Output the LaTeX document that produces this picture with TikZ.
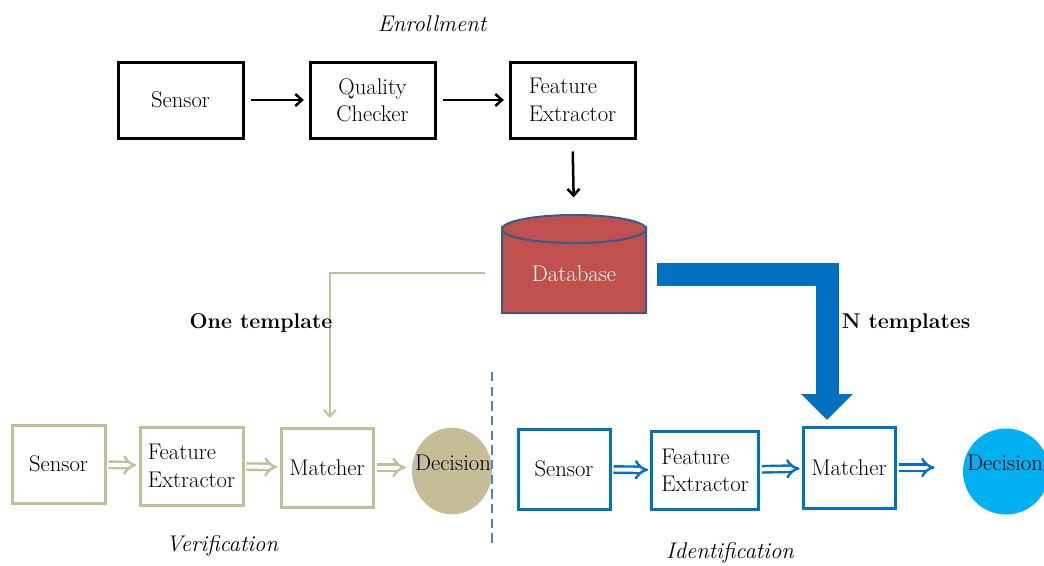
\documentclass[tikz,border=0pt]{standalone}
\usepackage{fontspec}
\usetikzlibrary{arrows.meta,shapes.geometric}
\definecolor{tanc}{HTML}{C4BD97}
\definecolor{mblue}{HTML}{0070C0}
\definecolor{cyanc}{HTML}{00B0F0}
\definecolor{dbred}{HTML}{C0504D}
\definecolor{dbedge}{HTML}{385D8A}
\definecolor{dashc}{HTML}{4F81BD}
\begin{document}
\begin{tikzpicture}[x=0.75pt,y=-0.75pt,
  every node/.style={font=\fontsize{17}{20.5}\selectfont, inner sep=0pt},
  ebox/.style={draw=black, line width=2.25pt, minimum width=93.75pt, minimum height=57pt, align=center},
  vbox/.style={draw=tanc, line width=2.25pt, align=center},
  ibox/.style={draw=mblue, line width=2.25pt, align=center},
  earr/.style={draw=black, line width=1.9pt, -{Straight Barb[length=5pt,width=9pt]}, shorten <=4.5pt, shorten >=3.5pt},
  varr/.style={draw=tanc, line width=1.8pt, double=white, double distance=3pt, -{Implies}, shorten <=1.5pt, shorten >=1.5pt},
  iarr/.style={draw=mblue, line width=1.8pt, double=white, double distance=3pt, -{Implies}, shorten <=1.5pt, shorten >=1.5pt},
  lbl/.style={font=\fontsize{16}{20.5}\selectfont\bfseries},
  ttl/.style={font=\fontsize{17}{20.5}\selectfont\itshape},
]
\useasboundingbox (0,0) rectangle (1044,565);

% Enrollment
\node[ttl] (tenr) at (432,24) {Enrollment};
\node[ebox] (es) at (180.5,100) {Sensor};
\node[ebox] (eq) at (372.5,100) {Quality\\Checker};
\node[ebox, align=left] (ef) at (572.5,100) {Feature\\Extractor};
\draw[earr] (es) -- (eq);
\draw[earr] (eq) -- (ef);

% Database
\node[minimum width=108pt, minimum height=73.5pt] (db) at (574,264) {};
\draw[fill=dbred, draw=dbedge, line width=1.5pt]
  (502,229) -- (502,313) -- (646,313) -- (646,229)
  arc[start angle=0, end angle=-180, x radius=72, y radius=-14] -- cycle;
\draw[fill=dbred, draw=dbedge, line width=1.5pt] (574,229) ellipse[x radius=72, y radius=14];
\node[text=white] (tdb) at (574,274) {Database};
\draw[earr, shorten <=9pt, shorten >=13pt] (ef.south) -- (db.north);

% Verification
\node[vbox, minimum width=69.75pt, minimum height=58.5pt] (vs) at (58.5,464) {Sensor};
\node[vbox, minimum width=77.25pt, minimum height=58.5pt, align=left] (vf) at (191.5,466) {Feature\\Extractor};
\node[vbox, minimum width=69pt, minimum height=59.25pt] (vm) at (327,467.5) {Matcher};
\node[ellipse, fill=tanc, minimum width=60pt, minimum height=65pt] (vd) at (452,471) {};
\node (tvd) at (453,463) {Decision};
\draw[varr] (vs) -- (vf);
\draw[varr] (vf) -- (vm);
\draw[varr] (vm.east) -- ([xshift=-3pt]vd.west |- vm.east);
\node[ttl] (tver) at (222,546) {Verification};

% One template connector
\coordinate (tstart) at (485,273);
\coordinate (tend) at (330,418);
\draw[tanc, line width=1.5pt, -{Straight Barb[length=5pt,width=9pt]}] (tstart) -| (tend);
\node[lbl] (lone) at (261,323) {One template};

% N templates connector
\coordinate (nstart) at (657,274.5);
\coordinate (ntip) at (827,420);
\draw[mblue, line width=17.25pt, -{Triangle[length=19.5pt,width=37.5pt]}] (nstart) -| (ntip);
\node[lbl] (lN) at (906,323) {N templates};

% Divider
\coordinate (dtop) at (492,372);
\coordinate (dbot) at (492,545);
\draw[dashc, line width=1pt, dash pattern=on 7pt off 4pt] (dtop) -- (dbot);

% Identification
\node[ibox, minimum width=69pt, minimum height=60pt] (is) at (564,469) {Sensor};
\node[ibox, minimum width=80pt, minimum height=59pt, align=left] (if) at (705,470.5) {Feature\\Extractor};
\node[ibox, minimum width=69pt, minimum height=60.75pt] (im) at (849,467.5) {Matcher};
\node[circle, fill=cyanc, minimum size=64.5pt] (idc) at (1006,471.5) {};
\node (tid) at (1005,463) {Decision};
\draw[iarr] (is) -- (if);
\draw[iarr] (if) -- (im);
\draw[iarr, shorten >=0pt] (im.east) -- ++(38,0) coordinate (iend);
\node[ttl] (tidn) at (730,553) {Identification};
\end{tikzpicture}
\end{document}
